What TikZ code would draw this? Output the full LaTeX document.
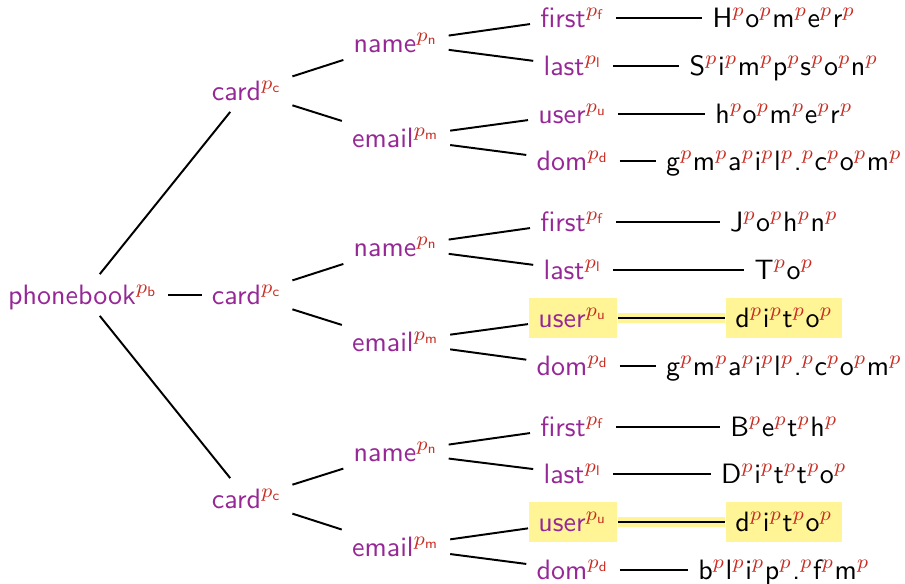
\documentclass[tikz,border=0pt]{standalone}
\usepackage{xcolor}
\definecolor{purp}{RGB}{150,40,150}
\definecolor{pred}{RGB}{200,45,35}
\definecolor{hl}{RGB}{255,245,150}
\renewcommand{\familydefault}{\sfdefault}
\newcommand{\pp}{$^{\color{pred}p}$}
\newcommand{\lab}[2]{{\color{purp}#1}$^{\color{pred}p_{\mathsf{#2}}}$}
\begin{document}
\begin{tikzpicture}[x=0.35714pt,y=-0.35714pt,
  every node/.style={inner sep=3.5pt, text height=7pt, text depth=0.5pt, font=\sffamily},
  edge/.style={line width=0.7pt},
  hlnode/.style={fill=hl},
  hledge/.style={draw=hl, line width=3.3pt}]
\useasboundingbox (0,0) rectangle (905,583);
% level 0-2
\node (pb) at (83,295) {\lab{phonebook}{b}};
\node (c1) at (247,91) {\lab{card}{c}};
\node (c2) at (247,295) {\lab{card}{c}};
\node (c3) at (247,499) {\lab{card}{c}};
\node (n1) at (396,43) {\lab{name}{n}};
\node (e1) at (396,138) {\lab{email}{m}};
\node (n2) at (396,247) {\lab{name}{n}};
\node (e2) at (396,342) {\lab{email}{m}};
\node (n3) at (396,452) {\lab{name}{n}};
\node (e3) at (396,547) {\lab{email}{m}};
% level 3
\node (f1) at (573,18) {\lab{first}{f}};
\node (l1) at (573,66) {\lab{last}{l}};
\node (u1) at (573,114) {\lab{user}{u}};
\node (d1) at (573,161) {\lab{dom}{d}};
\node (f2) at (573,222) {\lab{first}{f}};
\node (l2) at (573,270) {\lab{last}{l}};
\node[hlnode] (u2) at (573,318) {\lab{user}{u}};
\node (d2) at (573,366) {\lab{dom}{d}};
\node (f3) at (573,427) {\lab{first}{f}};
\node (l3) at (573,474) {\lab{last}{l}};
\node[hlnode] (u3) at (573,522) {\lab{user}{u}};
\node (d3) at (573,570) {\lab{dom}{d}};
% values
\node (vf1) at (784,18) {H\pp o\pp m\pp e\pp r\pp};
\node (vl1) at (784,66) {S\pp i\pp m\pp p\pp s\pp o\pp n\pp};
\node (vu1) at (784,114) {h\pp o\pp m\pp e\pp r\pp};
\node (vd1) at (784,161) {g\pp m\pp a\pp i\pp l\pp .\pp c\pp o\pp m\pp};
\node (vf2) at (784,222) {J\pp o\pp h\pp n\pp};
\node (vl2) at (784,270) {T\pp o\pp};
\node[hlnode] (vu2) at (784,318) {d\pp i\pp t\pp o\pp};
\node (vd2) at (784,366) {g\pp m\pp a\pp i\pp l\pp .\pp c\pp o\pp m\pp};
\node (vf3) at (784,427) {B\pp e\pp t\pp h\pp};
\node (vl3) at (784,474) {D\pp i\pp t\pp t\pp o\pp};
\node[hlnode] (vu3) at (784,522) {d\pp i\pp t\pp o\pp};
\node (vd3) at (784,570) {b\pp l\pp i\pp p\pp .\pp f\pp m\pp};
% edges
\draw[edge] (pb) -- (c1);
\draw[edge] (pb) -- (c2);
\draw[edge] (pb) -- (c3);
\draw[edge] (c1) -- (n1);
\draw[edge] (c1) -- (e1);
\draw[edge] (c2) -- (n2);
\draw[edge] (c2) -- (e2);
\draw[edge] (c3) -- (n3);
\draw[edge] (c3) -- (e3);
\draw[edge] (n1) -- (f1);
\draw[edge] (n1) -- (l1);
\draw[edge] (e1) -- (u1);
\draw[edge] (e1) -- (d1);
\draw[edge] (n2) -- (f2);
\draw[edge] (n2) -- (l2);
\draw[edge] (e2) -- (u2);
\draw[edge] (e2) -- (d2);
\draw[edge] (n3) -- (f3);
\draw[edge] (n3) -- (l3);
\draw[edge] (e3) -- (u3);
\draw[edge] (e3) -- (d3);
\draw[edge] (f1) -- (vf1);
\draw[edge] (l1) -- (vl1);
\draw[edge] (u1) -- (vu1);
\draw[edge] (d1) -- (vd1);
\draw[edge] (f2) -- (vf2);
\draw[edge] (l2) -- (vl2);
\draw[hledge] (u2) -- (vu2);
\draw[edge] (u2) -- (vu2);
\draw[edge] (d2) -- (vd2);
\draw[edge] (f3) -- (vf3);
\draw[edge] (l3) -- (vl3);
\draw[hledge] (u3) -- (vu3);
\draw[edge] (u3) -- (vu3);
\draw[edge] (d3) -- (vd3);
\end{tikzpicture}
\end{document}
